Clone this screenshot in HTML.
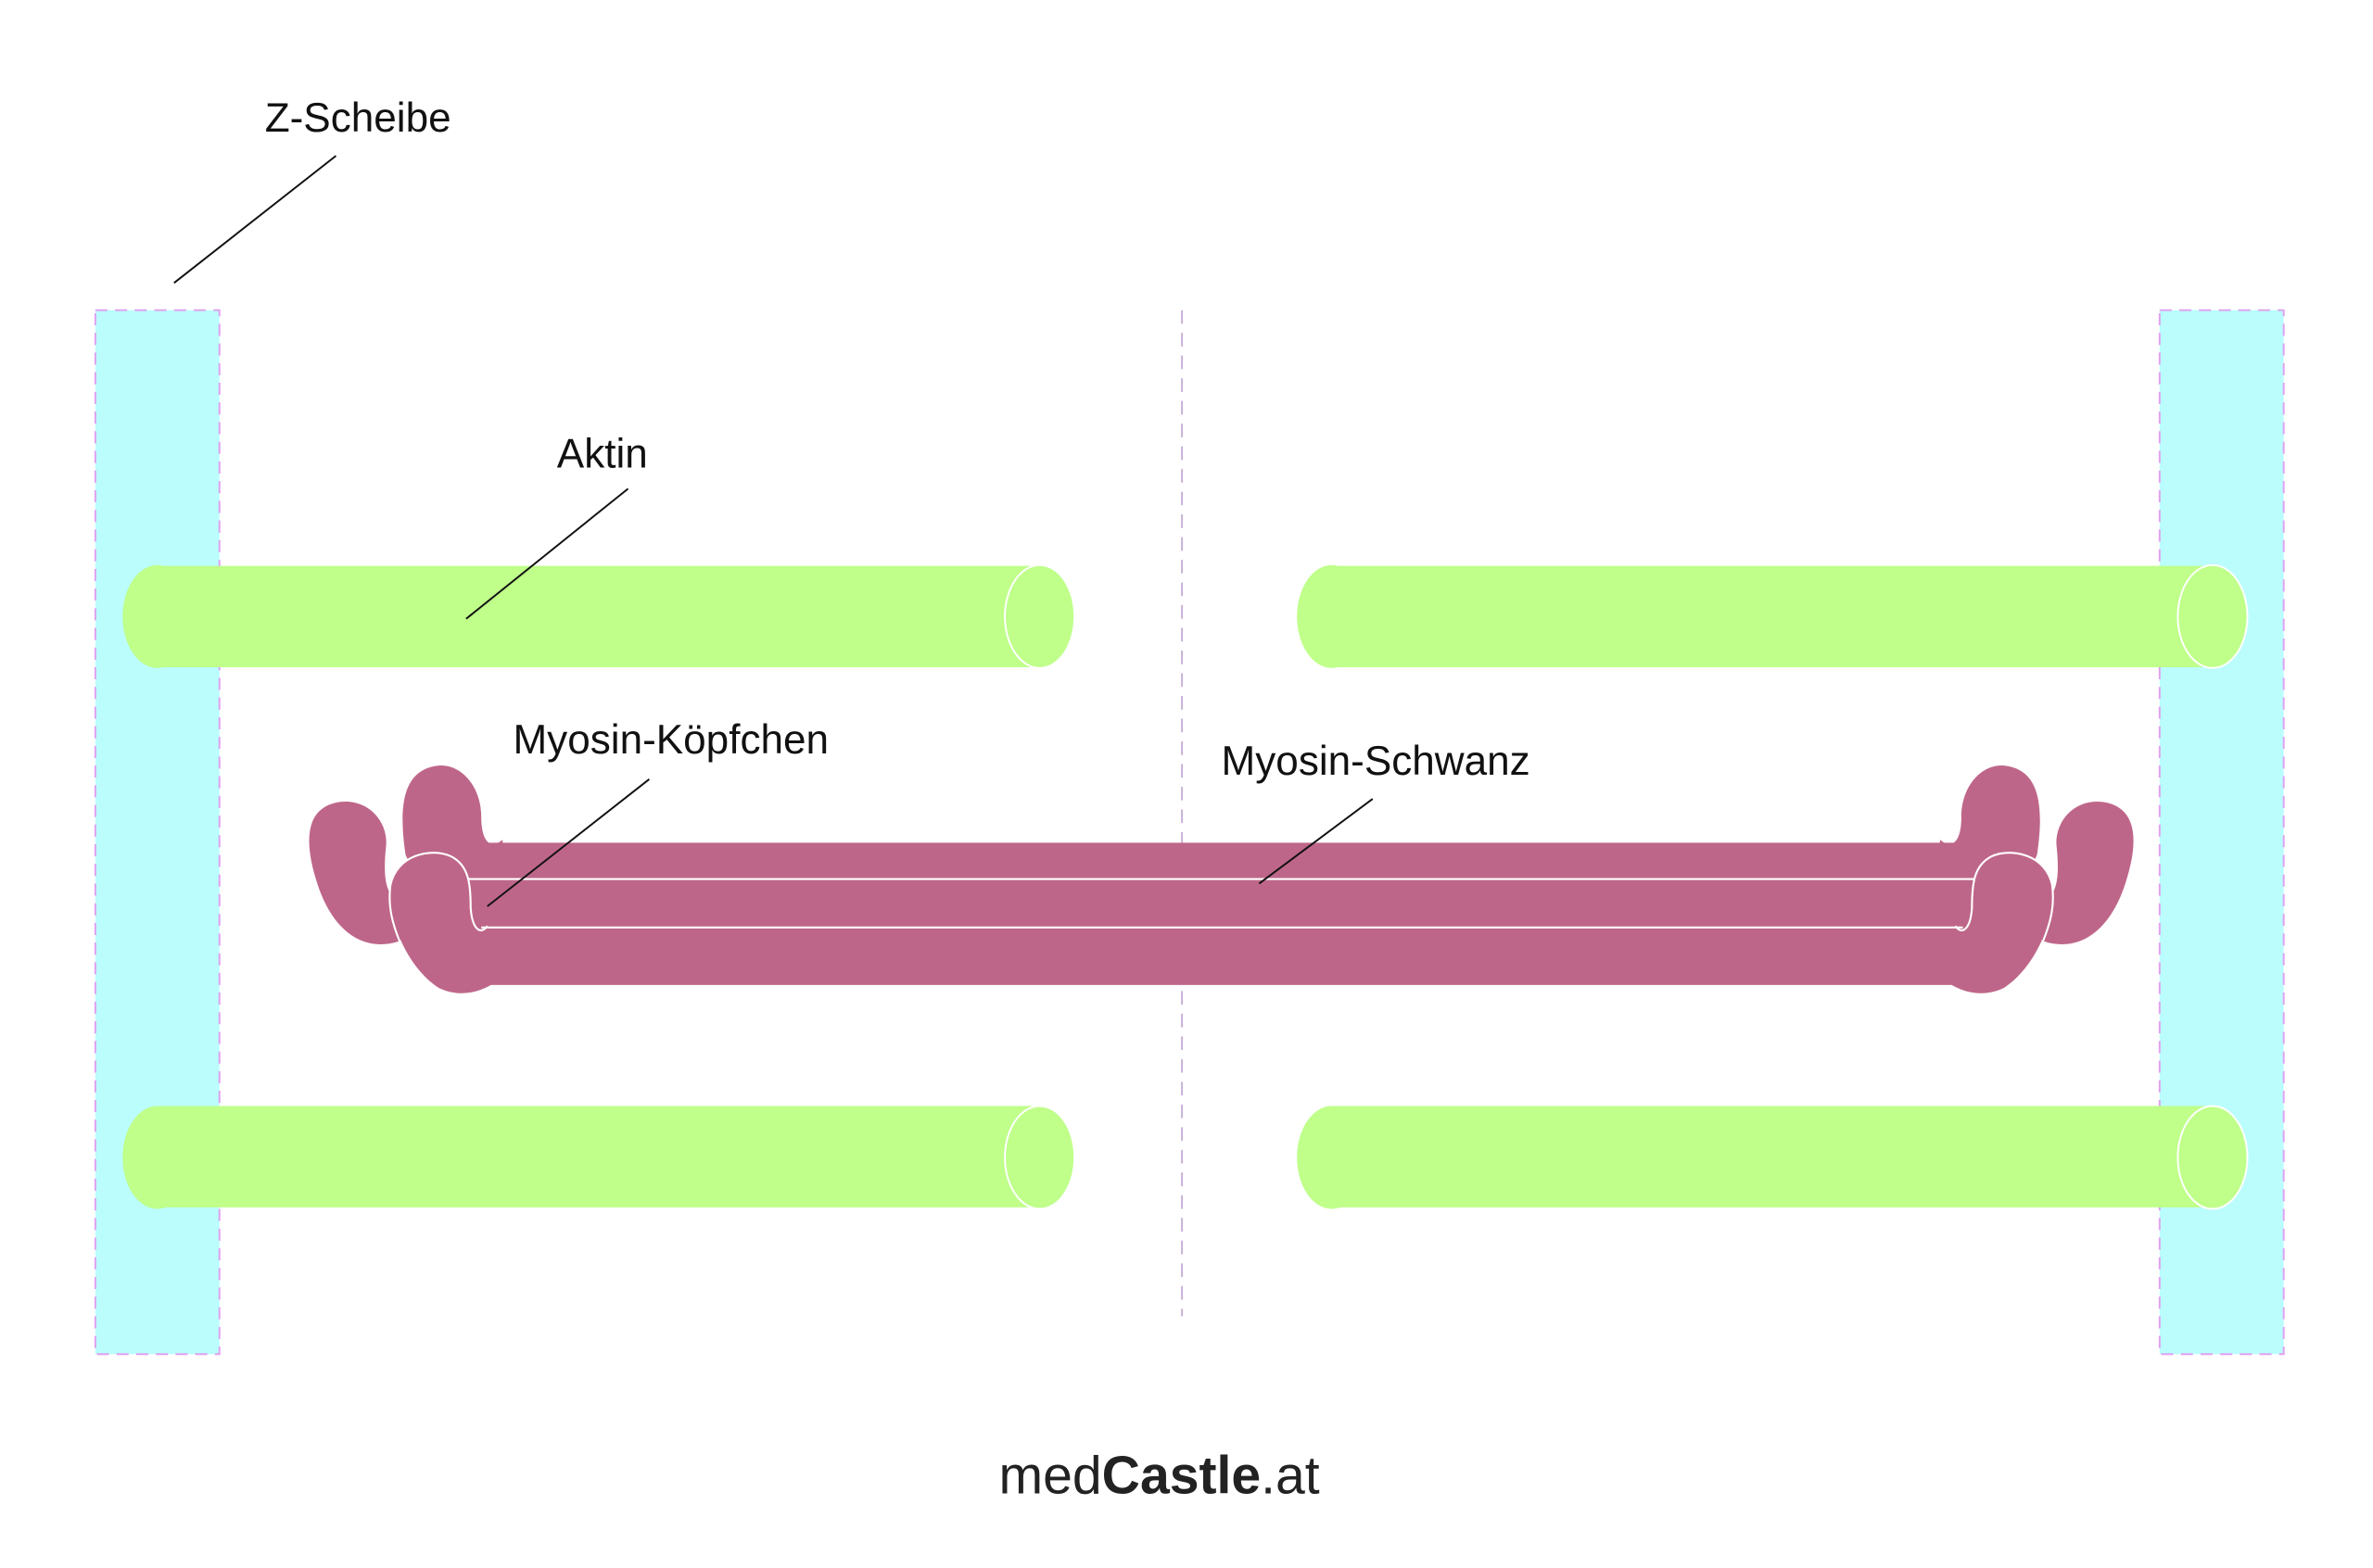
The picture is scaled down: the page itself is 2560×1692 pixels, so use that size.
<!DOCTYPE html>
<html><head><meta charset="utf-8"><style>html,body{margin:0;padding:0;background:#fff}svg{display:block}</style></head>
<body>
<svg width="2560" height="1692" viewBox="0 0 1568 1036.35" xmlns="http://www.w3.org/2000/svg" font-family="'Liberation Sans', sans-serif">
<rect width="1568" height="1037" fill="#fff"/>
<rect x="63" y="205" width="82" height="690" fill="#bbfdfd" stroke="#e0a0f0" stroke-width="1.2" stroke-dasharray="8,5"/>
<rect x="1427" y="205" width="82" height="690" fill="#bbfdfd" stroke="#e0a0f0" stroke-width="1.2" stroke-dasharray="8,5"/>
<line x1="781" y1="205" x2="781" y2="870" stroke="#c8b0d8" stroke-width="1.2" stroke-dasharray="9,6"/>
<g fill="#bfff8a">
 <ellipse cx="104" cy="407.5" rx="23" ry="34"/><rect x="104" y="374" width="583" height="67"/>
 <ellipse cx="687" cy="407.5" rx="23" ry="34" stroke="#fff" stroke-width="1.2"/>
 <ellipse cx="880" cy="407.5" rx="23" ry="34"/><rect x="880" y="374" width="582" height="67"/>
 <ellipse cx="1462" cy="407.5" rx="23" ry="34" stroke="#fff" stroke-width="1.2"/>
 <ellipse cx="104" cy="765" rx="23" ry="34"/><rect x="104" y="731" width="583" height="67"/>
 <ellipse cx="687" cy="765" rx="23" ry="34" stroke="#fff" stroke-width="1.2"/>
 <ellipse cx="880" cy="765" rx="23" ry="34"/><rect x="880" y="731" width="582" height="67"/>
 <ellipse cx="1462" cy="765" rx="23" ry="34" stroke="#fff" stroke-width="1.2"/>
</g>
<rect x="300" y="557" width="1014" height="94" fill="#be6689"/>
<line x1="305" y1="581" x2="1309" y2="581" stroke="#fff" stroke-width="1.3"/>
<line x1="318" y1="613" x2="1297" y2="613" stroke="#fff" stroke-width="1.3"/>
<g id="heads">
 <path fill="#be6689" d="M264,622 C240,630 220,615 210,585 C200,555 202,533 225,530 C245,528 257,545 255,560 C253,580 255,590 262,595 L275,610 Z"/>
 <path fill="#be6689" d="M332,555 C324,562 318,556 318,540 C318,520 305,505 290,506 C270,508 262,525 268,565 L275,580 L335,580 Z"/>
 <path fill="#be6689" d="M298,566 C285,560 262,565 258,585 C256,610 270,640 290,653 C305,660 318,655 326,650 L326,614 C318,618 312,615 311,600 C311,585 310,572 298,566 Z"/>
 <path fill="none" stroke="#fff" stroke-width="1.3" d="M322,612 C318,618 312,615 311,600 C311,585 310,572 298,566 C285,560 262,565 258,585 C256,600 260,612 264,622"/>
</g>
<use href="#heads" transform="translate(1614,0) scale(-1,1)"/>
<g fill="#111" font-size="27">
 <text x="175" y="87">Z-Scheibe</text>
 <text x="368" y="309">Aktin</text>
 <text x="339" y="498">Myosin-Köpfchen</text>
 <text x="807" y="512">Myosin-Schwanz</text>
</g>
<g stroke="#111" stroke-width="1.2">
 <line x1="222" y1="103" x2="115" y2="187"/>
 <line x1="415" y1="323" x2="308" y2="409"/>
 <line x1="429" y1="515" x2="322" y2="599"/>
 <line x1="907" y1="528" x2="832" y2="584"/>
</g>
<text x="766" y="987" text-anchor="middle" font-size="35" fill="#222">med<tspan font-weight="bold">Castle</tspan>.at</text>
</svg>
</body></html>
